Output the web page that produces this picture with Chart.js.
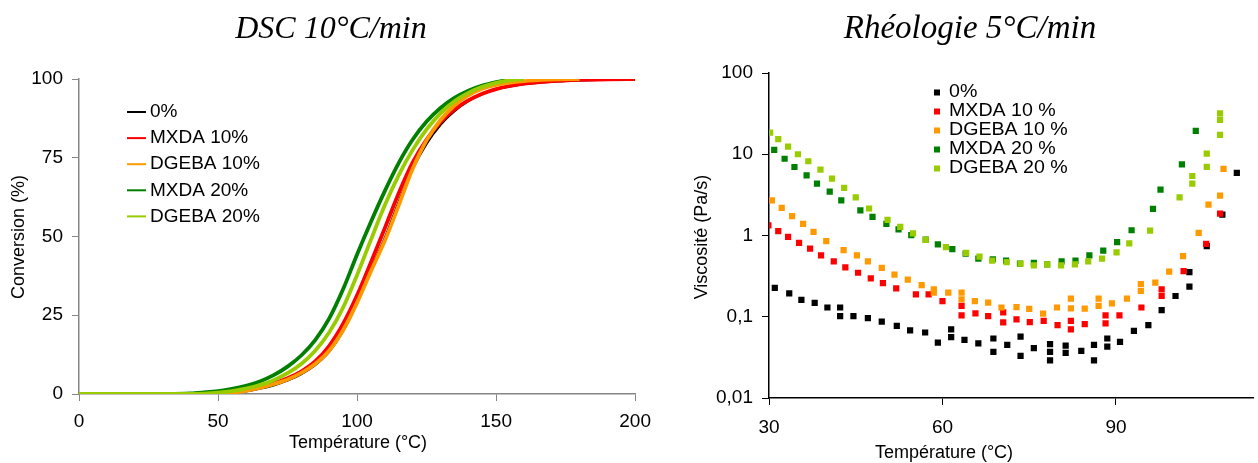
<!DOCTYPE html>
<html lang="fr">
<head>
<meta charset="UTF-8">
<title>DSC 10°C/min / Rhéologie 5°C/min</title>
<script src="https://cdn.jsdelivr.net/npm/chart.js"></script>
<style>
  html, body { margin: 0; padding: 0; background: #fff; overflow: hidden; }
  #wrap { position: relative; width: 1258px; height: 463px; overflow: hidden; }
  canvas { position: absolute; top: 0; }
  #dsc { left: 0; }
  #rheo { left: 660px; }
</style>
</head>
<body>
<div id="wrap">
  <canvas id="dsc" width="660" height="480"></canvas>
  <canvas id="rheo" width="598" height="480"></canvas>
</div>
<script>
// ---- DSC : conversion (%) vs température (°C)
const dscLabels = ['0%', 'MXDA 10%', 'DGEBA 10%', 'MXDA 20%', 'DGEBA 20%'];
const dscT_0 = [0, 20, 40, 45, 50, 55, 60, 65, 70, 75, 80, 85, 90, 95, 100, 105, 110, 115, 120, 125, 130, 135, 140, 145, 150, 160, 170, 180, 190, 200];
const dscC_0 = [0, 0, 0, 0.02, 0.1, 0.4, 0.9, 1.7, 2.8, 4.3, 6.4, 9.3, 13.5, 20, 29, 39.5, 49.5, 61, 71.5, 79.5, 85.5, 89.8, 93, 95.2, 96.7, 98.4, 99.2, 99.6, 99.8, 100];
const dscT_mxda10 = [0, 20, 40, 45, 50, 55, 60, 65, 70, 75, 80, 85, 90, 95, 100, 105, 110, 115, 120, 125, 130, 135, 140, 145, 150, 160, 170, 180, 190, 200];
const dscC_mxda10 = [0, 0, 0, 0.05, 0.25, 0.7, 1.3, 2.2, 3.4, 5.0, 7.2, 10.4, 15.3, 22.3, 31.3, 41.8, 52.7, 63.8, 73.5, 80.8, 86.3, 90.3, 93.2, 95.3, 96.8, 98.5, 99.3, 99.7, 99.9, 100];
const dscT_dgeba10 = [0, 20, 40, 45, 50, 55, 60, 65, 70, 75, 80, 85, 90, 95, 100, 105, 110, 115, 120, 125, 130, 135, 140, 145, 150, 160, 170, 180];
const dscC_dgeba10 = [0, 0, 0, 0.02, 0.1, 0.4, 1.0, 1.9, 3.1, 4.6, 6.7, 9.6, 13.8, 20.3, 29, 39, 48.7, 60, 71.5, 80.5, 87, 91.6, 94.8, 96.9, 98.1, 99.3, 99.8, 100];
const dscT_mxda20 = [0, 20, 40, 45, 50, 55, 60, 65, 70, 75, 80, 85, 90, 95, 100, 105, 110, 115, 120, 125, 130, 135, 140, 145, 150, 156];
const dscC_mxda20 = [0, 0, 0.2, 0.5, 0.9, 1.6, 2.6, 4.0, 6.0, 8.7, 12.3, 17.2, 24.0, 33.3, 44.3, 54.7, 64.5, 73.4, 80.8, 86.5, 90.8, 94.0, 96.3, 97.9, 99.0, 100];
const dscT_dgeba20 = [0, 20, 40, 45, 50, 55, 60, 65, 70, 75, 80, 85, 90, 95, 100, 105, 110, 115, 120, 125, 130, 135, 140, 145, 150, 155, 160];
const dscC_dgeba20 = [0, 0, 0, 0.1, 0.4, 0.9, 1.7, 2.8, 4.4, 6.6, 9.6, 13.8, 19.6, 27.5, 37.8, 49, 60, 69.5, 77.5, 84, 89.1, 92.9, 95.6, 97.5, 98.8, 99.6, 100];
const dscXTicks = [0, 50, 100, 150, 200];
const dscYTicks = [0, 25, 50, 75, 100];

// ---- Rhéologie : viscosité (Pa/s) vs température (°C)
const rheoLabels = ['0%', 'MXDA 10 %', 'DGEBA 10 %', 'MXDA 20 %', 'DGEBA 20 %'];
const rheoT_0 = [31.0, 33.5, 35.6, 37.9, 40.1, 42.3, 42.3, 44.6, 47.1, 49.5, 52.1, 54.4, 57.0, 59.2, 61.5, 61.5, 63.8, 66.2, 68.8, 68.8, 71.2, 73.5, 73.5, 75.8, 78.6, 78.6, 78.6, 81.3, 81.3, 84.0, 86.2, 86.2, 88.5, 88.5, 90.7, 93.1, 95.6, 97.9, 100.3, 102.7, 102.7, 105.7, 108.4, 110.9];
const rheoV_0 = [0.226, 0.194, 0.161, 0.148, 0.130, 0.130, 0.102, 0.102, 0.096, 0.087, 0.077, 0.068, 0.064, 0.048, 0.070, 0.056, 0.052, 0.047, 0.054, 0.037, 0.045, 0.057, 0.033, 0.041, 0.046, 0.037, 0.029, 0.044, 0.036, 0.038, 0.045, 0.029, 0.054, 0.043, 0.049, 0.067, 0.079, 0.121, 0.18, 0.355, 0.235, 0.74, 1.81, 5.9];
const rheoT_mxda10 = [29.9, 31.6, 33.3, 35.2, 37.1, 39.0, 41.2, 43.2, 45.4, 47.6, 49.7, 52.0, 55.4, 57.6, 60.0, 63.3, 63.3, 65.7, 67.9, 70.5, 70.5, 72.8, 75.1, 77.5, 79.9, 82.2, 82.2, 84.6, 88.2, 88.2, 90.6, 94.4, 97.9, 97.9, 101.7, 105.6, 108.0];
const rheoV_mxda10 = [1.33, 1.13, 0.96, 0.81, 0.69, 0.57, 0.48, 0.405, 0.348, 0.297, 0.26, 0.224, 0.189, 0.189, 0.156, 0.136, 0.104, 0.110, 0.102, 0.113, 0.085, 0.093, 0.086, 0.089, 0.079, 0.089, 0.070, 0.081, 0.104, 0.083, 0.104, 0.130, 0.217, 0.18, 0.365, 0.79, 1.86];
const rheoT_dgeba10 = [30.5, 32.2, 34.0, 35.9, 37.7, 39.9, 42.9, 45.2, 47.1, 49.5, 51.7, 54.0, 56.4, 58.5, 58.5, 61.0, 63.3, 63.3, 65.6, 67.9, 70.2, 72.8, 75.0, 77.4, 79.8, 82.2, 82.2, 84.6, 87.0, 87.0, 89.3, 91.9, 94.3, 94.3, 96.8, 99.2, 101.6, 104.3, 106.0, 108.0, 108.6];
const rheoV_dgeba10 = [2.71, 2.19, 1.73, 1.39, 1.11, 0.85, 0.66, 0.57, 0.48, 0.40, 0.33, 0.286, 0.245, 0.217, 0.198, 0.198, 0.198, 0.164, 0.156, 0.149, 0.130, 0.131, 0.125, 0.109, 0.130, 0.167, 0.127, 0.126, 0.167, 0.136, 0.146, 0.167, 0.253, 0.208, 0.263, 0.359, 0.557, 1.08, 2.4, 3.1, 6.6];
const rheoT_mxda20 = [30.9, 32.7, 34.4, 36.5, 38.3, 40.5, 42.5, 45.8, 47.9, 50.3, 52.4, 54.6, 57.1, 59.2, 61.7, 64.0, 66.2, 68.7, 71.0, 73.4, 75.8, 78.1, 80.6, 83.0, 85.4, 87.8, 90.2, 92.7, 96.4, 97.7, 101.4, 103.8];
const rheoV_mxda20 = [11.3, 8.8, 6.97, 5.5, 4.35, 3.47, 2.71, 2.04, 1.70, 1.39, 1.19, 1.01, 0.89, 0.78, 0.68, 0.60, 0.52, 0.51, 0.49, 0.45, 0.46, 0.44, 0.48, 0.49, 0.57, 0.65, 0.83, 1.16, 2.13, 3.67, 7.5, 19.4];
const rheoT_dgeba20 = [30.2, 31.6, 33.3, 35.0, 36.8, 38.9, 40.9, 43.0, 45.0, 47.3, 50.5, 52.7, 54.9, 57.1, 60.6, 64.1, 66.4, 68.6, 71.1, 73.5, 75.8, 78.1, 80.5, 82.9, 85.2, 87.6, 90.1, 92.3, 95.9, 101.0, 103.2, 103.2, 105.7, 105.7, 108.0, 108.0, 108.0];
const rheoV_dgeba20 = [18.5, 15.4, 12.4, 10.0, 8.2, 6.45, 5.0, 3.85, 2.95, 2.15, 1.56, 1.28, 1.06, 0.885, 0.72, 0.61, 0.55, 0.49, 0.47, 0.45, 0.43, 0.44, 0.43, 0.44, 0.48, 0.52, 0.62, 0.80, 1.15, 2.95, 5.4, 4.35, 10.2, 7.0, 31.8, 26.5, 17.3];
const rheoXTicks = [30, 60, 90];
const rheoYTicks = [0.01, 0.1, 1, 10, 100];

const colors = ['#000000', '#ff0000', '#ff9900', '#008000', '#99cc00'];
const SANS = "'Liberation Sans', Arial, sans-serif";
const SERIF = "'Liberation Serif', 'Times New Roman', serif";

function xy(ts, vs) {
    return ts.map((t, i) => ({ x: t, y: vs[i] }));
}

// titles, axis titles and the in-plot legend are drawn here
function decor(cfg) {
    return {
        id: 'decor',
        afterDraw(chart) {
            const ctx = chart.ctx;
            ctx.save();
            ctx.fillStyle = '#000';
            cfg.texts.forEach(t => {
                ctx.save();
                ctx.font = t.font;
                ctx.textAlign = 'center';
                ctx.textBaseline = t.baseline || 'middle';
                ctx.translate(t.x, t.y);
                if (t.rot) ctx.rotate(t.rot);
                ctx.fillText(t.text, 0, 0);
                ctx.restore();
            });
            const lg = cfg.legend;
            chart.data.datasets.forEach((ds, i) => {
                const y = lg.y0 + i * lg.dy;
                ctx.fillStyle = colors[i];
                ctx.strokeStyle = colors[i];
                if (lg.kind === 'line') {
                    ctx.lineWidth = 2;
                    ctx.beginPath();
                    ctx.moveTo(lg.x, y);
                    ctx.lineTo(lg.x + lg.len, y);
                    ctx.stroke();
                } else {
                    ctx.fillRect(lg.x - lg.size / 2, y - lg.size / 2, lg.size, lg.size);
                }
                ctx.save();
                ctx.fillStyle = '#000';
                ctx.font = lg.font;
                ctx.textAlign = 'left';
                ctx.textBaseline = 'middle';
                ctx.translate(lg.tx, y);
                ctx.scale(lg.sx || 1, 1);
                ctx.fillText(ds.label, 0, 0);
                ctx.restore();
            });
            ctx.restore();
        }
    };
}

const dscSeries = [
    [dscT_0, dscC_0], [dscT_mxda10, dscC_mxda10], [dscT_dgeba10, dscC_dgeba10],
    [dscT_mxda20, dscC_mxda20], [dscT_dgeba20, dscC_dgeba20]
];

new Chart(document.getElementById('dsc'), {
    type: 'line',
    data: {
        datasets: dscSeries.map((s, i) => ({
            label: dscLabels[i],
            data: xy(s[0], s[1]),
            borderColor: colors[i],
            borderWidth: i === 0 ? 2.5 : 3.8,
            pointRadius: 0,
            cubicInterpolationMode: 'monotone',
            order: 5 - i
        }))
    },
    options: {
        responsive: false,
        animation: false,
        layout: { padding: { left: 0, right: 24, top: 79, bottom: 0 } },
        plugins: { legend: { display: false }, tooltip: { enabled: false } },
        scales: {
            x: {
                type: 'linear', min: 0, max: 200,
                afterBuildTicks: s => { s.ticks = dscXTicks.map(v => ({ value: v })); },
                afterFit: s => { s.height = 480 - 394; },
                grid: { drawOnChartArea: false, tickLength: 7, color: '#868686' },
                border: { color: '#868686', width: 1.5 },
                ticks: { color: '#000', padding: 9, maxRotation: 0, font: { family: SANS, size: 19 } }
            },
            y: {
                type: 'linear', min: 0, max: 100,
                afterBuildTicks: s => { s.ticks = dscYTicks.map(v => ({ value: v })); },
                afterFit: s => { s.width = 79; },
                grid: { drawOnChartArea: false, tickLength: 7, color: '#868686' },
                border: { color: '#868686', width: 1.5 },
                ticks: { color: '#000', padding: 9, font: { family: SANS, size: 19 } }
            }
        }
    },
    plugins: [decor({
        texts: [
            { text: 'DSC 10°C/min', x: 331, y: 38, baseline: 'alphabetic', font: 'italic 32px ' + SERIF },
            { text: 'Conversion (%)', x: 19, y: 237, rot: -Math.PI / 2, font: '18px ' + SANS },
            { text: 'Température (°C)', x: 358, y: 443, font: '18px ' + SANS }
        ],
        legend: { kind: 'line', x: 127, len: 19, tx: 150, y0: 112, dy: 26.1, font: '19px ' + SANS }
    })]
});

const rheoSeries = [
    [rheoT_0, rheoV_0], [rheoT_mxda10, rheoV_mxda10], [rheoT_dgeba10, rheoV_dgeba10],
    [rheoT_mxda20, rheoV_mxda20], [rheoT_dgeba20, rheoV_dgeba20]
];

new Chart(document.getElementById('rheo'), {
    type: 'scatter',
    data: {
        datasets: rheoSeries.map((s, i) => ({
            label: rheoLabels[i],
            data: xy(s[0], s[1]),
            backgroundColor: colors[i],
            pointStyle: 'rect',
            pointRadius: 4.4,
            pointBorderWidth: 0,
            order: 5 - i
        }))
    },
    options: {
        responsive: false,
        animation: false,
        layout: { padding: { left: 0, right: 0, top: 73, bottom: 0 } },
        plugins: { legend: { display: false }, tooltip: { enabled: false } },
        scales: {
            x: {
                type: 'linear', min: 30, max: 113.8,
                afterBuildTicks: s => { s.ticks = rheoXTicks.map(v => ({ value: v })); },
                afterFit: s => { s.height = 480 - 398; },
                grid: { drawOnChartArea: false, tickLength: 7, color: '#000' },
                border: { color: '#000', width: 1.5 },
                ticks: { color: '#000', padding: 11, maxRotation: 0, font: { family: SANS, size: 19 } }
            },
            y: {
                type: 'logarithmic', min: 0.01, max: 100,
                afterBuildTicks: s => { s.ticks = rheoYTicks.map(v => ({ value: v })); },
                afterFit: s => { s.width = 109; },
                grid: { drawOnChartArea: false, tickLength: 7, color: '#000' },
                border: { color: '#000', width: 1.5 },
                ticks: {
                    color: '#000', padding: 9, font: { family: SANS, size: 19 },
                    callback: v => String(v).replace('.', ',')
                }
            }
        }
    },
    plugins: [decor({
        texts: [
            { text: 'Rhéologie 5°C/min', x: 310, y: 38, baseline: 'alphabetic', font: 'italic 33px ' + SERIF },
            { text: 'Viscosité (Pa/s)', x: 42, y: 237, rot: -Math.PI / 2, font: '18px ' + SANS },
            { text: 'Température (°C)', x: 284, y: 453, font: '18px ' + SANS }
        ],
        legend: { kind: 'rect', x: 277, size: 6, tx: 289, y0: 92.5, dy: 19, sx: 1.12, font: '17.5px ' + SANS }
    })]
});
</script>
</body>
</html>
